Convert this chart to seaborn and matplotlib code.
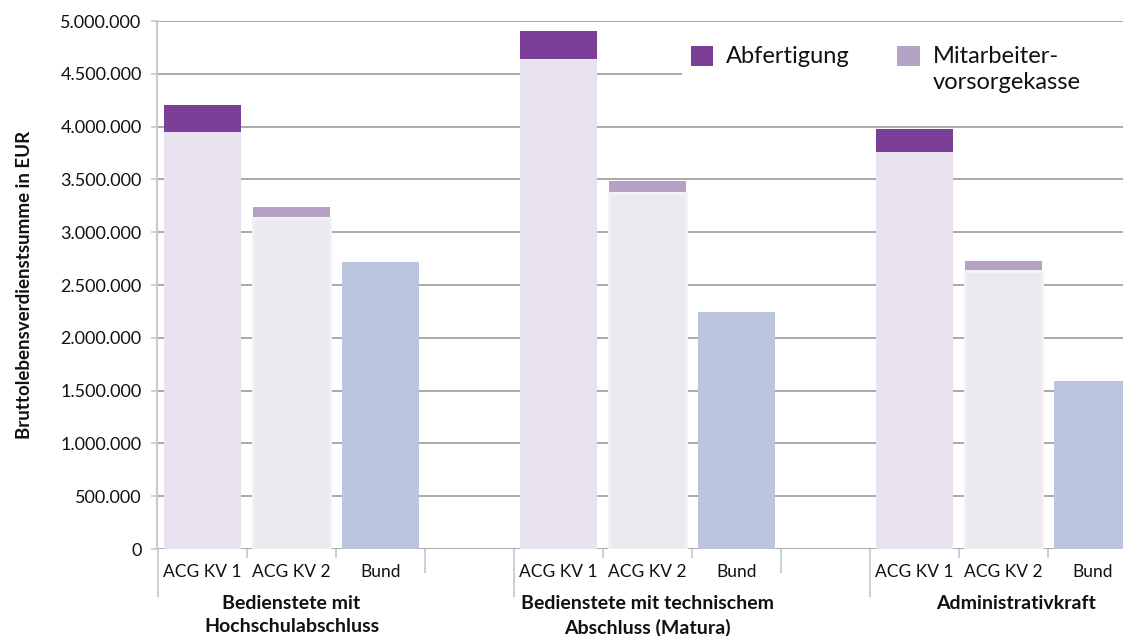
import matplotlib
matplotlib.use("Agg")
import matplotlib.pyplot as plt
import matplotlib.transforms as mtransforms
from matplotlib.colors import to_hex
from matplotlib.patches import Patch, Rectangle
from matplotlib.ticker import FuncFormatter, MultipleLocator
import numpy as np
import pandas as pd
import seaborn as sns

# ---- data -------------------------------------------------------------
groups = ["Bedienstete mit\nHochschulabschluss",
          "Bedienstete mit technischem\nAbschluss (Matura)",
          "Administrativkraft"]
series = ["ACG KV 1", "ACG KV 2", "Bund"]

# base lifetime gross earnings (EUR) per group
acg_kv1_base = [3950000, 4640000, 3760000]
acg_kv2_base = [3135000, 3370000, 2635000]
bund_base = [2720000, 2245000, 1590000]

# additional components stacked on top
abfertigung = [255000, 265000, 215000]          # on ACG KV 1
mitarbeitervorsorge = [100000, 115000, 95000]   # on ACG KV 2

legend_labels = ["Abfertigung", "Mitarbeiter-\nvorsorgekasse"]
y_label = "Bruttolebensverdienstsumme in EUR"

# ---- styling ----------------------------------------------------------
sns.set_theme(style="white")
plt.rcParams["font.family"] = ["Lato", "DejaVu Sans"]

c_abf = "#7B3F98"
c_mvk = "#B5A1C3"
c_kv1 = "#E8E2EF"
c_kv2 = "#EBE8F0"
c_kv2_edge = "#F3F1F6"
c_bund = "#BBC6DE"
grid_c = "#A3A3A3"
axis_c = "#C4CBD3"
text_c = "#111111"

# each group occupies 3 slots followed by one empty slot
slots_per_group = len(series) + 1
rows_base, rows_total = [], []
for g in range(len(groups)):
    parts = [(series[0], acg_kv1_base[g], abfertigung[g]),
             (series[1], acg_kv2_base[g], mitarbeitervorsorge[g]),
             (series[2], bund_base[g], 0)]
    for s, (name, base, extra) in enumerate(parts):
        pos = g * slots_per_group + s
        rows_base.append({"pos": pos, "series": name, "value": base})
        rows_total.append({"pos": pos, "series": name, "value": base + extra})
df_base = pd.DataFrame(rows_base)
df_total = pd.DataFrame(rows_total)

fig = plt.figure(figsize=(11.23, 6.36), dpi=100)
ax = fig.add_axes([157 / 1123, 1 - 549 / 636, (1123 - 157) / 1123, 528 / 636])

bar_w = 0.865
# full stacked height in the colour of the top segment
sns.barplot(data=df_total, x="pos", y="value", hue="series", native_scale=True,
            dodge=False, width=bar_w, errorbar=None, legend=False, saturation=1,
            palette={series[0]: c_abf, series[1]: c_mvk, series[2]: c_bund},
            linewidth=0, ax=ax, zorder=3)
n_top = len(ax.patches)
# base segment drawn over it
sns.barplot(data=df_base, x="pos", y="value", hue="series", native_scale=True,
            dodge=False, width=bar_w, errorbar=None, legend=False, saturation=1,
            palette={series[0]: c_kv1, series[1]: c_kv2, series[2]: c_bund},
            linewidth=0, ax=ax, zorder=3)
# soft light rim on the ACG KV 2 base bars
for p in ax.patches[n_top:]:
    if to_hex(p.get_facecolor()).lower() == c_kv2.lower():
        p.set_edgecolor(c_kv2_edge)
        p.set_linewidth(2.2)

ax.set_ylim(0, 5000000)
ax.set_xlim(-0.51, 10.34)
ax.yaxis.set_major_locator(MultipleLocator(500000))
ax.yaxis.set_major_formatter(FuncFormatter(lambda v, p: f"{int(v):,}".replace(",", ".")))
ax.grid(axis="y", color=grid_c, linewidth=1.3, zorder=0)
ax.grid(axis="x", visible=False)
ax.set_axisbelow(True)

for side in ["top", "right", "bottom"]:
    ax.spines[side].set_visible(False)
ax.spines["left"].set_color(axis_c)
ax.spines["left"].set_linewidth(1.5)

ax.tick_params(axis="y", length=4, width=1.2, color=axis_c, labelsize=13,
               pad=7, labelcolor=text_c, left=True)

# category labels under each bar
ax.set_xticks(df_base["pos"].to_numpy())
ax.set_xticklabels(df_base["series"].tolist())
ax.tick_params(axis="x", length=0, labelsize=12.5, pad=11, labelcolor=text_c)
ax.set_xlabel("")
ax.set_ylabel(y_label, fontsize=13.5, fontweight="bold", labelpad=20, color=text_c)

# separators and group labels below the axis
trans = mtransforms.blended_transform_factory(ax.transData, ax.transAxes)
group_label_shift = [0.0, 0.0, 0.14]
for g, name in enumerate(groups):
    start = g * slots_per_group
    ax.vlines(start - 0.5, -0.091, 0, transform=trans, color=axis_c, lw=1.3, clip_on=False)
    for k in (0.5, 1.5):
        ax.vlines(start + k, -0.017, 0, transform=trans, color=axis_c, lw=1.3, clip_on=False)
    ax.vlines(start + 2.5, -0.045, 0, transform=trans, color=axis_c, lw=1.3, clip_on=False)
    ax.text(start + 1 + group_label_shift[g], -0.087, name, transform=trans,
            ha="center", va="top", fontsize=14, fontweight="bold",
            linespacing=1.45, color=text_c)

# white backdrop behind the legend
ax.add_patch(Rectangle(((682 - 157) / 966, 0.85), 1.0, 0.133, transform=ax.transAxes,
                       facecolor="white", edgecolor="none", zorder=1, clip_on=True))

# legend
handles = [Patch(facecolor=c_abf, edgecolor="none"), Patch(facecolor=c_mvk, edgecolor="none")]
leg = fig.legend(handles, legend_labels, loc="upper left",
                 bbox_to_anchor=(672 / 1123, 1 - 27 / 636), ncol=2, frameon=False,
                 fontsize=17, handlelength=0.95, handleheight=0.95, handletextpad=0.55,
                 columnspacing=2.0, borderpad=0.3, labelspacing=0.2)
leg._legend_handle_box.align = "top"
for col in leg._legend_handle_box.get_children():
    col.align = "left"
    for item in col.get_children():
        item.align = "top"
for t in leg.get_texts():
    t.set_color(text_c)
    t.set_linespacing(1.3)

fig.savefig("out.png", dpi=100)
